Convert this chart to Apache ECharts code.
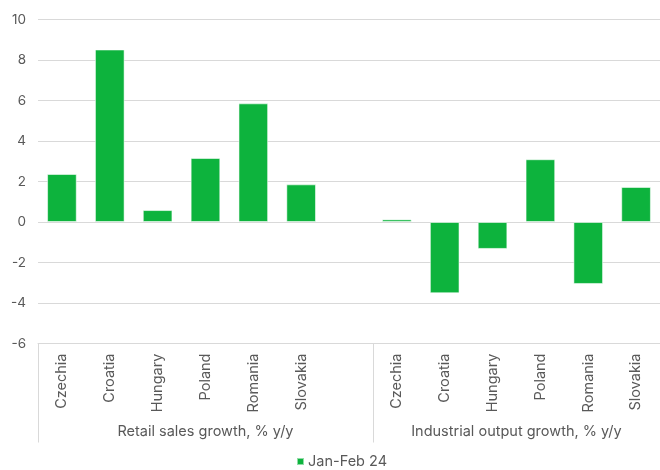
<!DOCTYPE html>
<html>
<head>
<meta charset="utf-8">
<script src="https://cdn.jsdelivr.net/npm/echarts@6/dist/echarts.min.js"></script>
<style>html,body{margin:0;padding:0;background:#fff}#c{width:660px;height:470px}</style>
</head>
<body>
<div id="c"></div>
<script>
const countries = ['Czechia','Croatia','Hungary','Poland','Romania','Slovakia'];
const groupLabels = ['Retail sales growth, % y/y','Industrial output growth, % y/y'];
const retailSales = [2.37, 8.52, 0.59, 3.16, 5.86, 1.86];
const industrialOutput = [0.13, -3.52, -1.33, 3.1, -3.06, 1.73];
const seriesName = 'Jan-Feb 24';
const yTicks = {min: -6, max: 10, interval: 2};

// 13 slots: 6 retail, one empty gap, 6 industrial
const categories = countries.concat(['']).concat(countries);
const values = retailSales.concat([null]).concat(industrialOutput);

// Secondary axis of 27 boundary points (half-category steps) for group labels and separators
const groupSlots = [];
for (let i = 0; i < categories.length * 2 + 1; i++) groupSlots.push('');
const retailMid = 7;
const industrialMid = 20;
groupSlots[retailMid] = groupLabels[0];
groupSlots[industrialMid] = groupLabels[1];
const separatorIdx = [0, 14, 26];

const font = 'Inter, "Noto Sans", sans-serif';
const grey = '#595959';
const chart = echarts.init(document.getElementById('c'));
chart.setOption({
  animation: false,
  textStyle: {fontFamily: font},
  grid: {left: 38, right: 0, top: 19.5, bottom: 126.5, containLabel: false},
  legend: {
    data: [seriesName], left: 296, top: 454, padding: 0, itemWidth: 7, itemHeight: 7, icon: 'rect', itemGap: 6,
    textStyle: {color: grey, fontSize: 14.5, fontFamily: font, padding: [0, 0, 0, -1]}
  },
  xAxis: [{
    type: 'category', data: categories, position: 'bottom',
    axisLine: {show: true, onZero: false, lineStyle: {color: '#d9d9d9'}},
    axisTick: {show: false},
    axisLabel: {rotate: 90, color: grey, fontSize: 14.5, fontFamily: font, margin: 10, interval: 0}
  }, {
    type: 'category', data: groupSlots, position: 'bottom', boundaryGap: false,
    axisLine: {show: false, onZero: false},
    axisTick: {show: true, length: 99, lineStyle: {color: '#d9d9d9'},
      interval: function (i) { return separatorIdx.indexOf(i) >= 0; }},
    axisLabel: {color: grey, fontSize: 14.5, fontFamily: font, margin: 81,
      interval: function (i) { return i === retailMid || i === industrialMid; }},
    splitLine: {show: false}
  }],
  yAxis: {
    type: 'value', min: yTicks.min, max: yTicks.max, interval: yTicks.interval,
    axisLine: {show: false}, axisTick: {show: false},
    axisLabel: {color: grey, fontSize: 13.5, fontFamily: font, margin: 12},
    splitLine: {lineStyle: {color: '#d9d9d9', width: 1}}
  },
  series: [{
    name: seriesName, type: 'bar', xAxisIndex: 0, data: values,
    barWidth: '62%',
    itemStyle: {color: '#0db33d', borderColor: 'rgba(255,255,255,0.55)', borderWidth: 1}
  }]
});
</script>
</body>
</html>
